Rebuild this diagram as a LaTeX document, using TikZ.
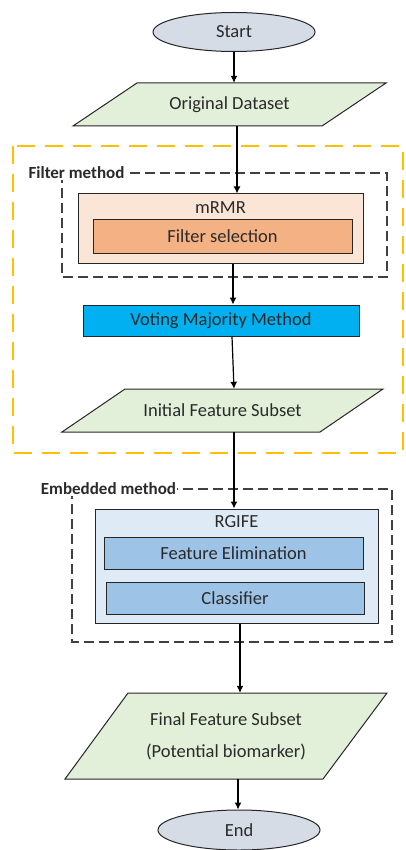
\documentclass[tikz,border=0pt]{standalone}
\usepackage{fontspec}
\setmainfont{Carlito}
\usetikzlibrary{arrows.meta,shapes.geometric,calc}
\definecolor{linec}{HTML}{262626}
\definecolor{txt}{HTML}{2A2A2A}
\definecolor{ellfill}{HTML}{D6DCE5}
\definecolor{parafill}{HTML}{E2F0D9}
\definecolor{peach}{HTML}{FBE5D6}
\definecolor{salmon}{HTML}{F4B183}
\definecolor{cyanbox}{HTML}{00B0F0}
\definecolor{paleblue}{HTML}{DEEBF7}
\definecolor{midblue}{HTML}{9DC3E6}
\definecolor{orangedash}{HTML}{FFC000}
\definecolor{graydash}{HTML}{404040}
\begin{document}
\begin{tikzpicture}[x=1pt,y=-1pt,
  mainfont/.style={font=\fontsize{18.5}{22}\selectfont, text=txt},
  boxnode/.style={draw=linec, line width=1pt, inner sep=0pt, mainfont},
  ellnode/.style={boxnode, ellipse, fill=ellfill},
  paraface/.style={draw=linec, line width=1pt, fill=parafill},
  paranode/.style={inner sep=0pt, mainfont},
  txtnode/.style={inner sep=0pt, mainfont},
  grouplabel/.style={fill=white, inner sep=1pt, text=txt, font=\fontsize{17}{20}\selectfont\bfseries},
  arr/.style={draw=black, line width=1.2pt, -{Latex[length=7pt,width=7pt]}},
  orangebox/.style={draw=orangedash, line width=2.8pt, dash pattern=on 18pt off 10pt},
  graybox/.style={draw=graydash, line width=1.3pt, dash pattern=on 10pt off 5pt}
]
\useasboundingbox (0,0) rectangle (406,850);

% group frames
\draw[orangebox] (13,146) rectangle (403,453);
\draw[graybox] (62,173) rectangle (387,277);
\draw[graybox] (72,489) rectangle (392,642);

% start
\node[ellnode, minimum width=162pt, minimum height=39pt] (start) at (234,32) {Start};

% original dataset
\filldraw[paraface] (73,126) -- (137,83) -- (386,83) -- (322,126) -- cycle;
\node[paranode, minimum width=249pt, minimum height=43pt] (orig) at (229.5,104.5) {Original Dataset};

% mRMR
\node[boxnode, fill=peach, minimum width=285pt, minimum height=69pt] (mrmr) at (220.5,228.5) {};
\node[txtnode] (mrmrlabel) at (220.5,208) {mRMR};
\node[boxnode, fill=salmon, minimum width=259pt, minimum height=33pt] (filtersel) at (222.5,236.5) {Filter selection};

% voting
\node[boxnode, fill=cyanbox, minimum width=276pt, minimum height=31pt] (voting) at (221,320.5) {Voting Majority Method};

% initial feature subset
\filldraw[paraface] (62,432) -- (125,389) -- (383,389) -- (320,432) -- cycle;
\node[paranode, minimum width=258pt, minimum height=43pt] (initial) at (222.5,410.5) {Initial Feature Subset};

% RGIFE
\node[boxnode, fill=paleblue, minimum width=283pt, minimum height=114pt] (rgife) at (236.5,566) {};
\node[txtnode] (rgifelabel) at (236.5,522) {RGIFE};
\node[boxnode, fill=midblue, minimum width=259pt, minimum height=32pt] (featelim) at (233.5,553) {Feature Elimination};
\node[boxnode, fill=midblue, minimum width=258pt, minimum height=32pt] (classifier) at (235,598) {Classifier};

% final feature subset
\filldraw[paraface] (65,779) -- (128,693) -- (387,693) -- (323,779) -- cycle;
\node[paranode, minimum width=258pt, minimum height=86pt, align=center] (final) at (226,736) {Final Feature Subset\\[10pt](Potential biomarker)};

% end
\node[ellnode, minimum width=162pt, minimum height=40pt] (end) at (239,830) {End};

% group labels
\node[grouplabel] (filterlab) at (76.5,173) {Filter method};
\node[grouplabel] (embedlab) at (108.5,489) {Embedded method};

% connectors
\draw[arr] (start.south) -- ([xshift=4.5pt]orig.north);
\draw[arr] ([xshift=7.5pt]orig.south) -- ([xshift=16.5pt]mrmr.north);
\draw[arr] ([xshift=12.5pt]mrmr.south) -- ([xshift=12pt]voting.north);
\draw[arr] ([xshift=11pt]voting.south) -- ([xshift=11.5pt]initial.north);
\draw[arr] ([xshift=11.5pt]initial.south) -- ([xshift=-2.5pt]rgife.north);
\draw[arr] ([xshift=3.5pt]rgife.south) -- ([xshift=14pt]final.north);
\draw[arr] ([xshift=12pt]final.south) -- ([xshift=-1pt]end.north);
\end{tikzpicture}
\end{document}
